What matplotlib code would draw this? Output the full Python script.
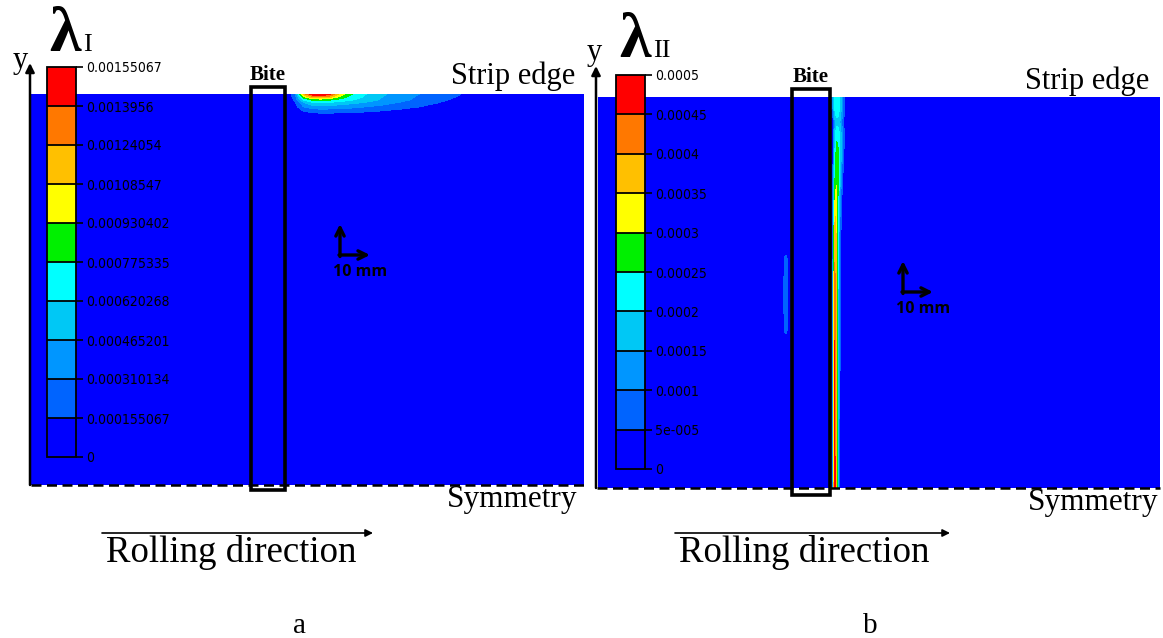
import matplotlib
matplotlib.use('Agg')
import matplotlib.pyplot as plt
import numpy as np
from matplotlib.colors import ListedColormap, BoundaryNorm
from matplotlib.cm import ScalarMappable
from matplotlib.patches import Rectangle

W, H = 1163, 638

# contour band colours, bottom (0) to top (max)
band_colors = ['#0000ff', '#0064ff', '#0096ff', '#00c8f5', '#00ffff',
               '#00f000', '#ffff00', '#ffc000', '#ff7800', '#ff0000']

# panel a: lambda_I, values in units of 1e-4
levels_a = [0, 0.000155067, 0.000310134, 0.000465201, 0.000620268, 0.000775335,
            0.000930402, 0.00108547, 0.00124054, 0.0013956, 0.00155067]
labels_a = ['0', '0.000155067', '0.000310134', '0.000465201', '0.000620268',
            '0.000775335', '0.000930402', '0.00108547', '0.00124054',
            '0.0013956', '0.00155067']
len_a, wid_a = 190.7, 134.8   # mm, rolling direction x half width
xa = [0, 88, 91, 94, 97, 100, 103, 107, 111, 116, 121, 127, 133, 140, 148, 153, 190.7]
ya = [0, 126.0, 127.3, 128.8, 130.3, 131.8, 132.8, 133.8, 134.8]
za = [
    [0] * 17,
    [0] * 17,
    [0, 0, 0, 0.3, 0.6, 0.7, 0.7, 0.6, 0.5, 0.3, 0.1, 0, 0, 0, 0, 0, 0],
    [0, 0, 0.3, 1.5, 2.0, 2.1, 2.1, 2.0, 1.9, 1.7, 1.4, 1.0, 0.6, 0.2, 0, 0, 0],
    [0, 0, 0.8, 3.0, 3.8, 4.0, 3.9, 3.7, 3.4, 3.0, 2.6, 2.1, 1.6, 1.0, 0.3, 0, 0],
    [0, 0, 1.3, 4.5, 5.8, 6.0, 5.9, 5.5, 5.0, 4.4, 3.7, 3.0, 2.3, 1.6, 0.7, 0, 0],
    [0, 0, 1.8, 6.5, 8.0, 8.2, 8.0, 7.2, 6.3, 5.4, 4.4, 3.6, 2.8, 2.0, 1.1, 0, 0],
    [0, 0, 2.3, 9.0, 12.0, 12.5, 11.5, 8.6, 7.0, 5.8, 4.7, 3.8, 3.0, 2.2, 1.4, 0, 0],
    [0, 0, 2.8, 11.5, 15.0, 15.5, 14.5, 10.0, 7.6, 6.1, 4.9, 4.0, 3.2, 2.4, 1.6, 0, 0],
]

# panel b: lambda_II, values in units of 1e-4
levels_b = [0, 5e-05, 0.0001, 0.00015, 0.0002, 0.00025, 0.0003,
            0.00035, 0.0004, 0.00045, 0.0005]
labels_b = ['0', '5e-005', '0.0001', '0.00015', '0.0002', '0.00025', '0.0003',
            '0.00035', '0.0004', '0.00045', '0.0005']
len_b, wid_b = 187.7, 130.3
xb = [0, 77.8, 78.5, 79.0, 79.4, 79.8, 80.3, 80.9, 81.6, 82.4, 187.7]
yb = [0, 66, 89, 101, 109, 118, 122, 126, 130.3]
zb = [
    [0, 0, 1.2, 4.8, 4.2, 2.8, 1.2, 0.2, 0, 0, 0],
    [0, 0, 1.2, 4.4, 4.0, 3.0, 1.6, 0.5, 0, 0, 0],
    [0, 0, 0.8, 3.4, 3.6, 3.0, 1.9, 0.8, 0.1, 0, 0],
    [0, 0, 0.6, 2.4, 2.9, 3.0, 2.4, 1.4, 0.5, 0, 0],
    [0, 0, 0.5, 2.0, 2.6, 3.0, 2.7, 1.9, 0.9, 0.2, 0],
    [0, 0, 0.4, 1.5, 2.1, 2.3, 2.2, 1.8, 1.1, 0.4, 0],
    [0, 0, 0.3, 1.2, 1.6, 1.8, 1.8, 1.4, 0.8, 0.2, 0],
    [0, 0, 1.0, 1.9, 2.3, 2.4, 2.2, 1.8, 1.2, 0.5, 0],
    [0, 0, 1.2, 2.1, 2.4, 2.4, 2.2, 1.8, 1.2, 0.4, 0],
]
# faint sliver ahead of the bite in panel b
xs_b = [61.5, 62.3, 62.8, 63.4, 64.2]
ys_b = [50, 52.5, 64, 76.5, 79]
zs_b = [
    [0, 0, 0, 0, 0],
    [0, 0.6, 0.8, 0.3, 0],
    [0, 0.7, 0.9, 0.4, 0],
    [0, 0.6, 0.8, 0.3, 0],
    [0, 0, 0, 0, 0],
]


def rect(l, t, r, b):
    return [l / W, 1 - b / H, (r - l) / W, (b - t) / H]


cmap = ListedColormap(band_colors)
narrow = ['Liberation Sans Narrow', 'DejaVu Sans']
serif = ['Liberation Serif', 'DejaVu Serif']

fig = plt.figure(figsize=(W / 100, H / 100), dpi=100)

# fields
ax_a = fig.add_axes(rect(31, 94, 584, 485))
ax_a.contourf(xa, ya, np.array(za) * 1e-4, levels=levels_a, colors=band_colors)
ax_a.set_xlim(0, len_a)
ax_a.set_ylim(0, wid_a)
ax_a.axis('off')

ax_b = fig.add_axes(rect(598, 97, 1160, 488))
ax_b.contourf(xb, yb, np.array(zb) * 1e-4, levels=levels_b, colors=band_colors)
ax_b.contourf(xs_b, ys_b, np.array(zs_b) * 1e-4, levels=levels_b[1:], colors=band_colors[1:])
ax_b.set_xlim(0, len_b)
ax_b.set_ylim(0, wid_b)
ax_b.axis('off')

# legends (colour bars) drawn inside the fields
for box, levels, labels in [((47, 67, 76, 457), levels_a, labels_a),
                            ((616, 75, 645, 469), levels_b, labels_b)]:
    cax = fig.add_axes(rect(*box))
    sm = ScalarMappable(norm=BoundaryNorm(levels, cmap.N), cmap=cmap)
    cb = fig.colorbar(sm, cax=cax, drawedges=True, ticks=levels)
    cb.outline.set_linewidth(1.3)
    cb.dividers.set_linewidth(1.3)
    cax.set_yticklabels(labels)
    cax.tick_params(axis='y', direction='out', length=5, width=1.2, pad=2,
                    labelsize=10, colors='black')
    for t in cax.get_yticklabels():
        t.set_fontfamily(narrow)
        t.set_fontstretch('condensed')

# annotations
ov = fig.add_axes([0, 0, 1, 1], zorder=10)
ov.set_xlim(0, W)
ov.set_ylim(H, 0)
ov.axis('off')
ov.patch.set_alpha(0)

panels = [
    dict(yx=30, bot=485, top=63, l=31, r=584, bite=(251, 87, 285, 490),
         sc=(340, 255), roll=(102, 373), roll_tx=106, sym_r=577, sym_y=507,
         edge_r=575, edge_y=84, bite_y=80, lam_x=49, lam_y=51, sub='I',
         ylab=(13, 68), letter='a', letter_x=300),
    dict(yx=596, bot=488, top=66, l=597, r=1160, bite=(792, 89, 830, 495),
         sc=(903, 292), roll=(675, 950), roll_tx=679, sym_r=1158, sym_y=510,
         edge_r=1149, edge_y=89, bite_y=82, lam_x=619, lam_y=57, sub='II',
         ylab=(587, 60), letter='b', letter_x=870),
]

for p in panels:
    ov.annotate('', xy=(p['yx'], p['top']), xytext=(p['yx'], p['bot']),
                arrowprops=dict(arrowstyle='-|>', lw=1.8, color='black',
                                mutation_scale=13, shrinkA=0, shrinkB=0))
    ov.plot([p['l'], p['r']], [p['bot'], p['bot']], color='black', lw=1.8,
            dashes=(4, 2.2))
    bl, bt, br, bb = p['bite']
    ov.add_patch(Rectangle((bl, bt), br - bl, bb - bt, fill=False,
                           edgecolor='black', lw=2.6))
    ov.text((bl + br) / 2, p['bite_y'], 'Bite', ha='center', va='baseline',
            fontsize=15, fontweight='bold', family=serif)
    cx, cy = p['sc']
    ov.annotate('', xy=(cx, cy - 31), xytext=(cx, cy + 1.5),
                arrowprops=dict(arrowstyle='->', lw=2.4, color='black',
                                mutation_scale=15, shrinkA=0, shrinkB=0))
    ov.annotate('', xy=(cx + 30, cy), xytext=(cx - 1, cy),
                arrowprops=dict(arrowstyle='->', lw=2.4, color='black',
                                mutation_scale=15, shrinkA=0, shrinkB=0))
    ov.text(cx + 20, cy + 21, '10 mm', ha='center', va='baseline', fontsize=11.5,
            fontweight='bold', family=['Open Sans', 'DejaVu Sans'])
    x0, x1 = p['roll']
    ov.annotate('', xy=(x1, 533), xytext=(x0, 533),
                arrowprops=dict(arrowstyle='-|>', lw=1.2, color='black',
                                mutation_scale=11, shrinkA=0, shrinkB=0))
    ov.text(p['roll_tx'], 562, 'Rolling direction', ha='left', va='baseline',
            fontsize=26.5, family=serif)
    ov.text(p['sym_r'], p['sym_y'], 'Symmetry', ha='right', va='baseline',
            fontsize=22.5, family=serif)
    ov.text(p['edge_r'], p['edge_y'], 'Strip edge', ha='right', va='baseline',
            fontsize=22, family=serif)
    ov.text(p['lam_x'], p['lam_y'], '\u03bb', ha='left', va='baseline',
            fontsize=46, fontweight='bold', family=serif)
    ov.text(p['lam_x'] + 34, p['lam_y'], p['sub'], ha='left', va='baseline',
            fontsize=19, family=serif)
    ov.text(p['ylab'][0], p['ylab'][1], 'y', ha='left', va='baseline',
            fontsize=22, family=serif)
    ov.text(p['letter_x'], 633, p['letter'], ha='center', va='baseline',
            fontsize=21, family=serif)

fig.savefig('out.png', dpi=100)
